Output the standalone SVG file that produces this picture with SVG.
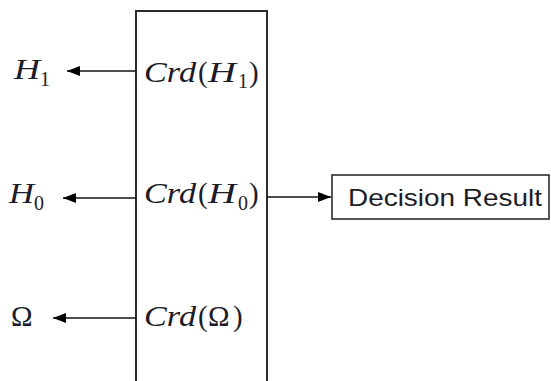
<svg xmlns="http://www.w3.org/2000/svg" width="551" height="381" viewBox="0 0 551 381">
  <style>
    .box { fill: #ffffff; stroke: #2b2b2b; stroke-width: 2; }
    .rbox { fill: #ffffff; stroke: #1e1e1e; stroke-width: 1.5; }
    .wire { stroke: #111111; stroke-width: 1.6; fill: none; marker-end: url(#head); }
    .math { font-family: "Liberation Serif", "DejaVu Serif", serif; font-style: italic; font-size: 29px; fill: #1c1c28; }
    .up { font-style: normal; }
    .sub { font-family: "Liberation Serif", "DejaVu Serif", serif; font-style: normal; font-size: 20px; fill: #2a1a24; }
    .label { font-family: "Liberation Sans", Arial, sans-serif; font-size: 24px; fill: #1c1c28; }
  </style>
  <defs>
    <marker id="head" viewBox="0 0 13 10" refX="13" refY="5" markerWidth="13" markerHeight="10" markerUnits="userSpaceOnUse" orient="auto">
      <path d="M0,0 L13,5 L0,10 z" fill="#000000"/>
    </marker>
  </defs>
  <rect width="551" height="381" fill="#ffffff"/>

  <!-- central credibility block, open past the lower edge -->
  <g id="credibility-block">
    <rect class="box" x="136" y="11" width="131" height="390"/>
    <text class="math" x="144" y="82" textLength="52" lengthAdjust="spacingAndGlyphs">Crd</text>
    <text class="math up" x="198" y="82">(</text>
    <text class="math" x="208" y="82" textLength="28" lengthAdjust="spacingAndGlyphs">H</text>
    <text class="sub" x="238" y="88">1</text>
    <text class="math up" x="249" y="82">)</text>

    <text class="math" x="144" y="203" textLength="52" lengthAdjust="spacingAndGlyphs">Crd</text>
    <text class="math up" x="198" y="203">(</text>
    <text class="math" x="208" y="203" textLength="28" lengthAdjust="spacingAndGlyphs">H</text>
    <text class="sub" x="238" y="210">0</text>
    <text class="math up" x="249" y="203">)</text>

    <text class="math" x="144" y="326" textLength="52" lengthAdjust="spacingAndGlyphs">Crd</text>
    <text class="math up" x="198" y="326">(</text>
    <text class="math up" x="208" y="326">Ω</text>
    <text class="math up" x="233" y="326">)</text>
  </g>

  <g id="hyp-h1">
    <text class="math" x="14" y="79" textLength="26" lengthAdjust="spacingAndGlyphs">H</text>
    <text class="sub" x="40" y="86">1</text>
  </g>
  <g id="hyp-h0">
    <text class="math" x="9" y="203" textLength="25" lengthAdjust="spacingAndGlyphs">H</text>
    <text class="sub" x="34" y="210">0</text>
  </g>
  <g id="hyp-omega">
    <text class="math up" x="11" y="326">Ω</text>
  </g>

  <g id="decision-result">
    <rect class="rbox" x="332" y="175" width="217" height="44"/>
    <text class="label" x="348" y="206" textLength="194" lengthAdjust="spacingAndGlyphs">Decision Result</text>
  </g>

  <g id="connectors">
    <line class="wire" x1="136" y1="71" x2="67" y2="71"/>
    <line class="wire" x1="136" y1="198" x2="63" y2="198"/>
    <line class="wire" x1="136" y1="318" x2="53" y2="318"/>
    <line class="wire" x1="267" y1="197" x2="331" y2="197"/>
  </g>
</svg>
